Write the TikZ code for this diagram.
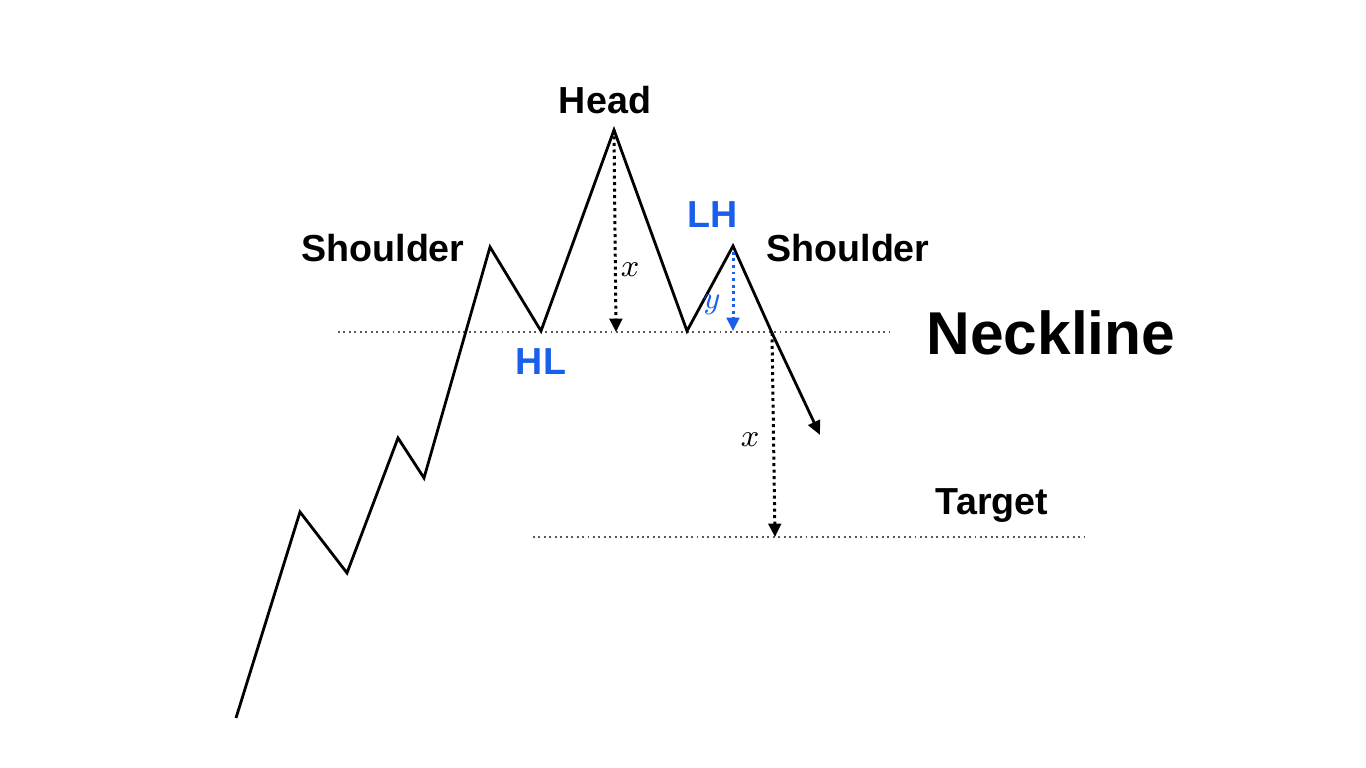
\documentclass[tikz,border=0pt]{standalone}
\usepackage{fontspec}
\setmainfont{Liberation Sans}
\usetikzlibrary{arrows.meta}
\definecolor{hsblue}{RGB}{25,95,235}
\begin{document}
\begin{tikzpicture}[x=0.01cm, y=-0.01cm, font=\bfseries\fontsize{10.7}{12}\selectfont]
	\useasboundingbox (0,0) rectangle (1366,768);
	\tikzset{
		price/.style={line width=0.8pt, line join=miter},
		level/.style={line width=0.55pt, densely dotted, gray!70!black},
		measure/.style={line width=0.85pt, densely dotted, -{Triangle[length=3.8pt, width=3.6pt]}},
		mlabel/.style={font=\fontsize{9}{10}\selectfont, inner sep=1pt}
	}

	\coordinate (p0) at (236, 718);
	\coordinate (p1) at (300, 512);
	\coordinate (p2) at (347, 573);
	\coordinate (p3) at (398, 438);
	\coordinate (p4) at (424, 478);
	\coordinate (ls) at (490, 247);
	\coordinate (hl) at (541, 331);
	\coordinate (hd) at (614, 130);
	\coordinate (lo) at (687, 331);
	\coordinate (lh) at (733, 246);
	\coordinate (br) at (772, 333);
	\coordinate (en) at (820, 435);

	\coordinate (n1) at (338, 332);
	\coordinate (n2) at (893, 332);
	\coordinate (t1) at (533, 537);
	\coordinate (t2) at (1087, 537);

	\coordinate (hdn) at (616, 332);
	\coordinate (lhs) at (733, 252);
	\coordinate (lhn) at (733, 331);
	\coordinate (brt) at (775, 537);

	% livelli
	\draw[level] (n1) -- (n2);
	\draw[level] (t1) -- (t2);

	% prezzo
	\draw[price, -{Triangle[length=4pt, width=3.6pt]}] (p0) -- (p1) -- (p2) -- (p3) -- (p4) -- (ls) -- (hl) -- (hd) -- (lo) -- (lh) -- (br) -- (en);

	% misure
	\draw[measure] (hd) -- (hdn);
	\draw[measure, hsblue] (lhs) -- (lhn);
	\draw[measure] (br) -- (brt);
	\node[mlabel] (x1) at (630, 270) {$x$};
	\node[mlabel, text=hsblue] (y1) at (712, 305) {$y$};
	\node[mlabel] (x2) at (750, 440) {$x$};

	\node (head) at (605, 100) {Head};
	\node (lsh) at (383, 248) {Shoulder};
	\node (rsh) at (848, 248) {Shoulder};
	\node[text=hsblue] (lhl) at (713, 215) {LH};
	\node[text=hsblue] (hll) at (541, 362) {HL};
	\node[font=\bfseries\fontsize{17.2}{19}\selectfont] (neck) at (1051, 333) {Neckline};
	\node (tgt) at (992, 506) {Target};
\end{tikzpicture}
\end{document}
